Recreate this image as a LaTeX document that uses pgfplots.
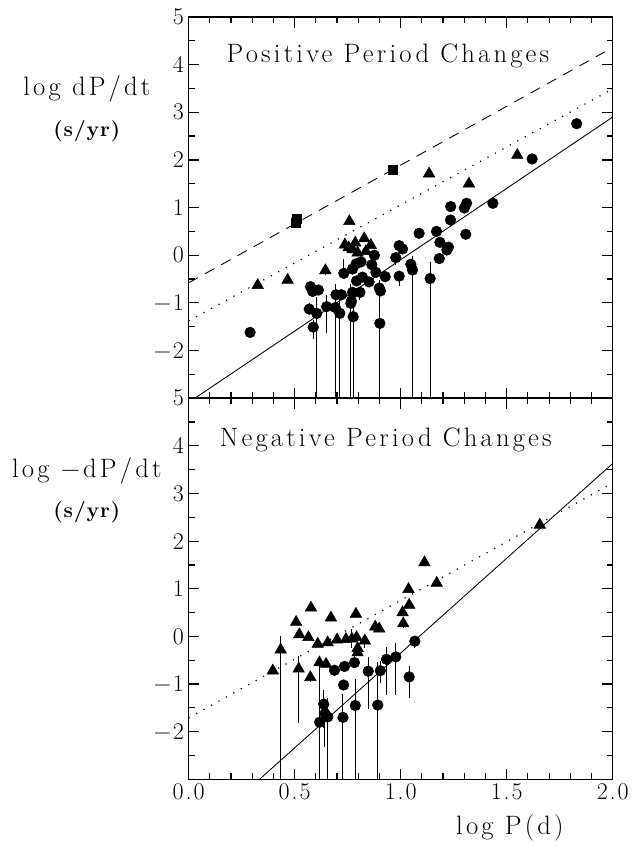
\documentclass[border=0pt]{standalone}
\usepackage{fontspec}
\setmainfont{Latin Modern Roman}
\usepackage{pgfplots}
\pgfplotsset{compat=1.18}

\newcommand{\lab}{\fontsize{20}{23}\selectfont\addfontfeature{LetterSpace=12}}
\newcommand{\unitlab}{\fontsize{16}{19}\selectfont\bfseries\addfontfeature{LetterSpace=4}}
\newcommand{\ticks}{\fontsize{18}{21}\selectfont\addfontfeature{LetterSpace=8}}

\pgfplotsset{
  panel/.style={
    scale only axis, width=318.75pt, height=286.5pt,
    xmin=0, xmax=2, ymin=-3, ymax=5,
    xtick={0,0.5,1,1.5,2}, minor x tick num=4,
    ytick={-2,-1,0,1,2,3,4,5}, minor ytick={-2.5,-1.5,...,4.5},
    yticklabels={−2,−1,0,1,2,3,4,5},
    tick align=inside, major tick length=8pt, minor tick length=4.5pt,
    every tick/.style={black, line width=0.9pt},
    axis line style={line width=1.1pt},
    tick label style={font=\ticks},
  },
  circ/.style={only marks, mark=*, mark size=4pt, black,
    error bars/.cd, y dir=both, y explicit, error mark=none,
    error bar style={line width=0.75pt, black}},
  tri/.style={only marks, mark=triangle*, mark size=5pt, black,
    error bars/.cd, y dir=both, y explicit, error mark=none,
    error bar style={line width=0.75pt, black}},
  sq/.style={only marks, mark=square*, mark size=3.4pt, black},
  fitline/.style={no marks, black, line width=0.65pt},
}

\begin{document}
\begin{tikzpicture}
% page frame, 1 px = 0.75pt
\path (-141.75pt,-48.75pt) rectangle (332.25pt,585.75pt);

% ---- positive period changes
\begin{axis}[panel, at={(0,286.5pt)}, anchor=south west, xticklabels={}]
\addplot[fitline, dash pattern=on 8pt off 6pt] coordinates {(0,-0.58) (2,4.36)};
\addplot[fitline, line width=0.9pt, dash pattern=on 0.9pt off 5.5pt] coordinates {(0,-1.38) (2,3.49)};
\addplot[fitline] coordinates {(0.03,-3) (2,2.9)};

\addplot[circ] coordinates {
(0.29,-1.62)
(0.575,-0.66) (0.585,-0.76) (0.612,-0.73)
(0.569,-1.13) += (0,0.12) -= (0,0.12)
(0.588,-1.51) += (0,0.15) -= (0,0.25)
(0.604,-1.22) += (0,0.35) -= (0,1.78)
(0.651,-1.08) += (0,0.25) -= (0,0.55)
(0.695,-0.83) += (0,0.2) -= (0,0.2)
(0.692,-1.10) += (0,0.5) -= (0,1.9)
(0.713,-1.22) += (0,0.4) -= (0,1.78)
(0.72,-0.83)
(0.732,-0.38) += (0,0.3) -= (0,0.1)
(0.765,-1.01) += (0,0.4) -= (0,1.99)
(0.776,-1.29) += (0,0.3) -= (0,1.71)
(0.773,-0.78) += (0,0.1) -= (0,0.1)
(0.808,-0.78) += (0,0) -= (0,0.15)
(0.773,-0.29) (0.79,-0.18) (0.813,-0.14) (0.792,-0.54)
(0.820,-0.46) (0.851,-0.56) (0.768,-0.96)
(0.864,-0.20) (0.876,0.0) (0.883,-0.36)
(0.899,-0.69) (0.905,-0.75)
(0.902,-1.43) += (0,0.9) -= (0,1.57)
(0.927,-0.45)
(0.977,-0.05) += (0,0.12) -= (0,0.15)
(0.993,0.2) (1.009,0.13)
(0.993,-0.44) += (0,0.1) -= (0,0.2)
(1.048,-0.19)
(1.056,-0.31) += (0,0.3) -= (0,2.69)
(1.087,0.46)
(1.139,-0.49) += (0,0.35) -= (0,2.51)
(1.169,0.50)
(1.182,-0.07) += (0,0.12) -= (0,0.12)
(1.185,0.27)
(1.218,0.11) += (0,0.1) -= (0,0.1)
(1.225,0.17)
(1.235,0.74) (1.236,1.02) (1.30,0.99) (1.311,1.09) (1.307,0.44)
(1.435,1.09) (1.620,2.02) (1.83,2.76)
};
\addplot[tri] coordinates {
(0.326,-0.63) (0.467,-0.52)
(0.645,-0.32) += (0,0) -= (0,0.1)
(0.758,0.71) (0.737,0.22) (0.755,0.16) (0.786,0.26) (0.828,0.35)
(0.859,0.21) (0.797,0.05) (0.836,0.08) (0.773,0.12)
(1.134,1.71) (1.322,1.50) (1.55,2.10)
};
\addplot[sq] coordinates {(0.504,0.68) (0.51,0.77) (0.962,1.80)};
\node[font=\lab] at (axis cs:0.94,4.19) {Positive Period Changes};
\end{axis}

% ---- negative period changes
\begin{axis}[panel, at={(0,0)}, anchor=south west,
  xticklabels={0.0,0.5,1.0,1.5,2.0}]
\addplot[fitline, line width=0.9pt, dash pattern=on 0.9pt off 5.5pt] coordinates {(0,-1.71) (2,3.22)};
\addplot[fitline] coordinates {(0.334,-3) (2,3.63)};

\addplot[tri] coordinates {
(0.397,-0.72)
(0.434,-0.28) += (0,0.28) -= (0,2.72)
(0.507,0.30)
(0.519,-0.68) += (0,0.26) -= (0,1.13)
(0.522,0.04) (0.565,-0.02)
(0.574,-0.86) += (0,0.1) -= (0,0.1)
(0.577,0.60) (0.609,-0.16)
(0.617,-0.55) += (0,0) -= (0,2.45)
(0.648,-0.58) (0.656,-0.13) (0.671,0.39) (0.700,-0.07) (0.742,-0.06)
(0.770,-0.05) += (0,0.2) -= (0,0.2)
(0.789,0.47) (0.792,-0.02) (0.797,-0.25) (0.797,-0.34)
(0.831,-0.09) += (0,0) -= (0,0.15)
(0.880,0.20) (0.899,0.16) (1.009,0.50)
(1.012,0.27) += (0,0.1) -= (0,0.1)
(1.037,0.99) (1.040,0.66) (1.112,1.55) (1.170,1.12) (1.656,2.34)
};
\addplot[circ] coordinates {
(0.688,-0.71)
(0.735,-0.63) += (0,0) -= (0,0.1)
(0.782,-0.55) += (0,0.15) -= (0,0)
(0.731,-1.02)
(0.847,-0.73) += (0,0.3) -= (0,0.8)
(0.904,-0.72) += (0,0.2) -= (0,0.25)
(0.933,-0.48) += (0,0.25) -= (0,0.75)
(0.977,-0.43) += (0,0.3) -= (0,0.8)
(1.067,-0.10) += (0,0.1) -= (0,0.15)
(1.040,-0.85) += (0,0.22) -= (0,0.45)
(0.637,-1.42) += (0,0.3) -= (0,0.5)
(0.618,-1.80) += (0,0) -= (0,1.2)
(0.643,-1.62) += (0,0.3) -= (0,0.7)
(0.656,-1.69) += (0,0.4) -= (0,1.31)
(0.728,-1.70) += (0,0.5) -= (0,1.30)
(0.786,-1.45) += (0,0.55) -= (0,1.55)
(0.892,-1.44) += (0,0.9) -= (0,1.56)
};
\node[font=\lab] at (axis cs:0.93,4.12) {Negative Period Changes};
\end{axis}

% axis titles
\node[font=\lab] at (-76.5pt,519pt) {log dP/dt};
\node[font=\unitlab] at (-76.5pt,487.5pt) {(s/yr)};
\node[font=\lab] at (-76.5pt,231.75pt) {log −dP/dt};
\node[font=\unitlab] at (-76.5pt,201pt) {(s/yr)};
\node[font=\lab] at (241.5pt,-36.75pt) {log P(d)};
\end{tikzpicture}
\end{document}
